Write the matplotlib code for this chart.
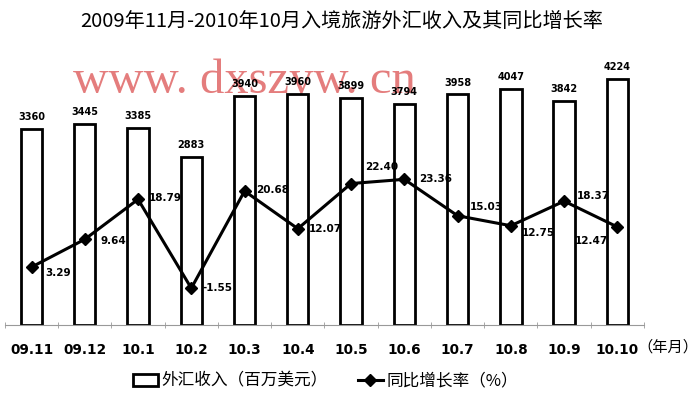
import matplotlib
matplotlib.use("Agg")
import matplotlib.pyplot as plt
import numpy as np

plt.rcParams['font.family'] = ['Noto Sans CJK SC', 'DejaVu Sans']

months = ['09.11', '09.12', '10.1', '10.2', '10.3', '10.4', '10.5', '10.6', '10.7', '10.8', '10.9', '10.10']
income = [3360, 3445, 3385, 2883, 3940, 3960, 3899, 3794, 3958, 4047, 3842, 4224]
growth = [3.29, 9.64, 18.79, -1.55, 20.68, 12.07, 22.40, 23.36, 15.03, 12.75, 18.37, 12.47]
# label offsets for the growth labels (points)
goff = [(10, -4), (11, -1), (8, 1), (8, 0), (8, 1), (8, 0), (10, 12), (11, 0), (9, 6), (8, -5), (9, 4), (-7, -10)]
gha = ['left', 'left', 'left', 'left', 'left', 'left', 'left', 'left', 'left', 'left', 'left', 'right']

fig = plt.figure(figsize=(7, 3.98), dpi=100)
ax = fig.add_axes([0.007, 0.183, 0.913, 0.659])
ax2 = ax.twinx()

# watermark under everything
ax.text(0.107, 0.93, 'www. dxszyw. cn', transform=ax.transAxes, fontsize=35, family='Liberation Serif',
        color='#e06666', alpha=0.85, ha='left', va='center', zorder=0)

x = np.arange(len(months))
bars = ax.bar(x, income, width=0.4, facecolor='white', edgecolor='black', linewidth=2, zorder=2)
ax.set_ylim(0, 4500)
ax.set_xlim(-0.5, 11.5)
for xi, v in zip(x, income):
    ax.annotate(str(v), (xi, v), xytext=(0, 5), textcoords='offset points', ha='center', va='bottom',
                fontsize=7, fontweight='bold', family='DejaVu Sans', zorder=3)

ln, = ax2.plot(x, growth, color='black', linewidth=2.2, marker='D', markersize=6)
ax2.set_ylim(-10, 50)
for xi, v, o, h in zip(x, growth, goff, gha):
    ax2.annotate('%.2f' % v, (xi, v), xytext=o, textcoords='offset points', ha=h, va='center',
                 fontsize=7.5, fontweight='bold', family='DejaVu Sans')

for a in (ax, ax2):
    for s in ['top', 'left', 'right']:
        a.spines[s].set_visible(False)
    a.set_yticks([])
ax.spines['bottom'].set_color('#999999')
ax2.spines['bottom'].set_visible(False)

ax.set_xticks(x)
ax.set_xticklabels(months, fontsize=9.8, fontweight='bold', family='DejaVu Sans')
ax.tick_params(axis='x', length=0, pad=13)
ax.set_xticks(np.arange(-0.5, 12, 1), minor=True)
ax.tick_params(axis='x', which='minor', length=4, direction='inout', color='#999999')

fig.text(0.954, 0.128, '（年月）', fontsize=11, ha='center', va='center')
fig.text(0.488, 0.945, '2009年11月-2010年10月入境旅游外汇收入及其同比增长率', fontsize=14.5, ha='center', va='center')

fig.legend([bars, ln], ['外汇收入（百万美元）', '同比增长率（%）'], loc='center', bbox_to_anchor=(0.465, 0.042),
           ncol=2, frameon=False, fontsize=12, handlelength=1.5, columnspacing=1.8, handletextpad=0.2)

fig.savefig('out.png', dpi=100)
